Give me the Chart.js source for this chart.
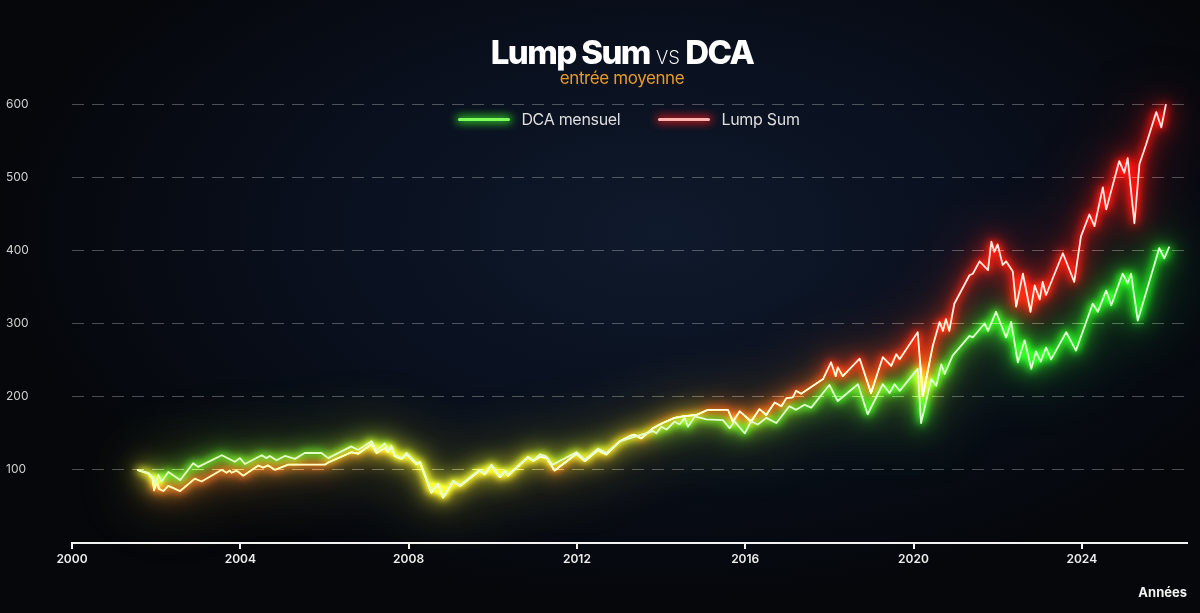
<!DOCTYPE html>
<html>
<head>
<meta charset="utf-8">
<script src="https://cdn.jsdelivr.net/npm/chart.js@4.4.1/dist/chart.umd.min.js"></script>
<style>
  html, body { margin: 0; padding: 0; width: 1200px; height: 613px; overflow: hidden; }
  body {
    background: radial-gradient(ellipse 55% 60% at 55% 38%, #0f1a2c 0%, #0a1120 45%, #05070b 100%);
    font-family: Inter, "Liberation Sans", sans-serif;
  }
  #wrap { position: relative; width: 1200px; height: 613px; }
  #chart { position: absolute; left: 0; top: 0; }
  .title { position: absolute; left: 0; width: 1244px; top: 32px; text-align: center; color: #fff;
    font-size: 33px; font-weight: 800; letter-spacing: -1.6px; line-height: 40px; }
  .title .vs { font-weight: 200; font-size: 24px; letter-spacing: -0.5px; }
  .sub { position: absolute; left: 0; width: 1244px; top: 68px; text-align: center; color: #e89a2c;
    font-size: 17px; letter-spacing: -0.4px; }
  #legend { position: absolute; top: 109px; left: 0; width: 1258px; display: flex; justify-content: center;
    gap: 38px; color: #dedede; font-size: 16px; letter-spacing: -0.3px; }
  .item { display: flex; align-items: center; gap: 11px; }
  .swatch { width: 52px; height: 3px; border-radius: 2px; }
</style>
</head>
<body>
<div id="wrap">
  <canvas id="chart" width="1200" height="613"></canvas>
  <div class="title">Lump Sum <span class="vs">vs</span> DCA</div>
  <div class="sub">entrée moyenne</div>
  <div id="legend"></div>
</div>
<script>
// DCA mensuel
const dcaYears = [
  2001.55, 2001.81, 2001.92, 2001.99, 2002.05, 2002.13, 2002.29, 2002.57, 2002.88, 2003.00,
  2003.56, 2003.87, 2003.99, 2004.11, 2004.51, 2004.62, 2004.70, 2004.86, 2005.06, 2005.30,
  2005.53, 2005.93, 2006.09, 2006.64, 2006.80, 2007.12, 2007.24, 2007.43, 2007.51, 2007.59,
  2007.67, 2007.83, 2007.95, 2008.19, 2008.27, 2008.54, 2008.70, 2008.82, 2009.06, 2009.22,
  2009.69, 2009.81, 2009.97, 2010.17, 2010.29, 2010.36, 2010.84, 2010.96, 2011.12, 2011.28,
  2011.42, 2011.99, 2012.19, 2012.50, 2012.70, 2013.02, 2013.25, 2013.81, 2013.89, 2014.01,
  2014.13, 2014.32, 2014.44, 2014.56, 2014.64, 2014.80, 2015.08, 2015.47, 2015.63, 2015.75,
  2015.99, 2016.14, 2016.30, 2016.50, 2016.74, 2017.05, 2017.21, 2017.41, 2017.57, 2018.00,
  2018.20, 2018.68, 2018.91, 2019.27, 2019.43, 2019.55, 2019.67, 2020.10, 2020.18, 2020.42,
  2020.54, 2020.66, 2020.74, 2020.93, 2021.33, 2021.41, 2021.69, 2021.77, 2021.96, 2022.20,
  2022.32, 2022.48, 2022.64, 2022.80, 2022.91, 2023.02, 2023.15, 2023.27, 2023.63, 2023.86,
  2024.26, 2024.38, 2024.58, 2024.70, 2024.97, 2025.09, 2025.17, 2025.33, 2025.84, 2025.96,
  2026.08
];
const dcaValues = [
  100, 96, 90, 81, 93, 84, 97, 86, 109, 104,
  120, 111, 116, 108, 120, 116, 119, 113, 119, 115,
  123, 123, 116, 132, 127, 139, 127, 136, 127, 133,
  120, 116, 123, 109, 111, 70, 81, 63, 85, 79,
  100, 95, 107, 91, 99, 93, 118, 113, 121, 118,
  107, 124, 114, 129, 123, 139, 143, 153, 150, 159,
  155, 166, 162, 171, 159, 173, 169, 168, 157, 166,
  150, 166, 162, 171, 164, 187, 182, 189, 185, 216,
  194, 217, 176, 217, 205, 217, 208, 238, 164, 224,
  215, 244, 231, 256, 283, 281, 300, 290, 316, 281,
  302, 247, 277, 238, 262, 248, 267, 251, 288, 263,
  327, 316, 345, 325, 368, 355, 368, 304, 403, 389,
  405
];

// Lump Sum
const lumpYears = [
  2001.55, 2001.81, 2001.92, 2001.95, 2002.01, 2002.07, 2002.17, 2002.29, 2002.57, 2002.92,
  2003.08, 2003.56, 2003.67, 2003.75, 2003.79, 2003.91, 2004.07, 2004.43, 2004.54, 2004.66,
  2004.82, 2005.14, 2006.01, 2006.09, 2006.64, 2006.80, 2007.12, 2007.24, 2007.43, 2007.51,
  2007.59, 2007.67, 2007.83, 2007.95, 2008.19, 2008.27, 2008.54, 2008.70, 2008.82, 2009.06,
  2009.22, 2009.69, 2009.81, 2009.97, 2010.17, 2010.29, 2010.36, 2010.84, 2010.96, 2011.12,
  2011.28, 2011.47, 2011.99, 2012.19, 2012.50, 2012.70, 2013.02, 2013.25, 2013.37, 2013.53,
  2013.81, 2014.04, 2014.32, 2014.52, 2014.84, 2015.11, 2015.59, 2015.71, 2015.87, 2016.14,
  2016.34, 2016.50, 2016.70, 2016.86, 2016.98, 2017.13, 2017.21, 2017.33, 2017.85, 2018.04,
  2018.15, 2018.20, 2018.32, 2018.72, 2018.99, 2019.27, 2019.47, 2019.59, 2019.67, 2020.10,
  2020.22, 2020.46, 2020.62, 2020.70, 2020.77, 2020.85, 2020.97, 2021.33, 2021.41, 2021.57,
  2021.77, 2021.85, 2021.92, 2022.00, 2022.12, 2022.20, 2022.36, 2022.44, 2022.60, 2022.78,
  2022.88, 2023.00, 2023.07, 2023.15, 2023.55, 2023.82, 2023.98, 2024.18, 2024.30, 2024.50,
  2024.58, 2024.89, 2025.01, 2025.09, 2025.25, 2025.37, 2025.53, 2025.77, 2025.89, 2026.00
];
const lumpValues = [
  100, 95, 88, 72, 84, 74, 71, 78, 71, 88,
  84, 100, 96, 99, 96, 99, 92, 106, 103, 106,
  100, 107, 107, 110, 124, 122, 135, 123, 130, 125,
  131, 119, 115, 121, 108, 110, 69, 80, 62, 84,
  78, 99, 94, 106, 90, 98, 92, 117, 112, 118,
  116, 99, 122, 112, 127, 121, 139, 146, 148, 143,
  157, 164, 171, 173, 175, 182, 182, 166, 180, 166,
  183, 175, 192, 187, 198, 199, 208, 204, 224, 247,
  228, 240, 228, 252, 205, 254, 242, 258, 251, 288,
  201, 270, 302, 290, 306, 290, 327, 366, 368, 385,
  373, 412, 398, 408, 380, 385, 371, 323, 368, 316,
  352, 333, 357, 339, 396, 357, 419, 449, 433, 486,
  456, 522, 506, 526, 437, 518, 545, 589, 568, 600
];

const xTicks = [2000, 2004, 2008, 2012, 2016, 2020, 2024];
const yTicks = [100, 200, 300, 400, 500, 600];

// couleurs du halo et du trait, de gauche a droite
const glowStops = [
  [[0, '#4cff2c'], [0.5, '#40ff28'], [1, '#22ff22']],
  [[0, '#ff5024'], [0.45, '#ff421a'], [0.7, '#ff2414'], [1, '#ff100c']]
];
const coreStops = [
  [[0, '#e4ffc4'], [1, '#e2ffd8']],
  [[0, '#ffc8a8'], [0.5, '#ffe4d4'], [1, '#ffe8e4']]
];

function hGradient(chart, stops) {
  const area = chart.chartArea;
  if (!area) return stops[0][1];
  const g = chart.ctx.createLinearGradient(area.left, 0, area.right, 0);
  stops.forEach(([o, c]) => g.addColorStop(o, c));
  return g;
}

const glow = {
  id: 'glow',
  beforeDatasetDraw(chart, args) {
    const ctx = chart.ctx;
    const pts = args.meta.data;
    const trace = () => {
      ctx.beginPath();
      pts.forEach((p, i) => i ? ctx.lineTo(p.x, p.y) : ctx.moveTo(p.x, p.y));
    };
    ctx.save();
    ctx.globalCompositeOperation = 'lighter';
    ctx.lineJoin = 'round';
    ctx.strokeStyle = hGradient(chart, glowStops[args.index]);
    const passes = [[30, 30, 0.18], [11, 12, 0.5], [4, 4, 0.95]];
    passes.forEach(([blur, width, alpha]) => {
      ctx.filter = 'blur(' + blur + 'px)';
      ctx.globalAlpha = alpha;
      ctx.lineWidth = width;
      trace();
      ctx.stroke();
    });
    ctx.restore();
  }
};

const ctx = document.getElementById('chart');
const chart = new Chart(ctx, {
  type: 'line',
  data: {
    datasets: [{
      label: 'DCA mensuel',
      data: dcaYears.map((x, i) => ({ x: x, y: dcaValues[i] })),
      borderColor: c => hGradient(c.chart, coreStops[0]),
      swatch: '#7dff5c',
      borderWidth: 1.8
    }, {
      label: 'Lump Sum',
      data: lumpYears.map((x, i) => ({ x: x, y: lumpValues[i] })),
      borderColor: c => hGradient(c.chart, coreStops[1]),
      swatch: '#ffb4b0',
      borderWidth: 1.8
    }]
  },
  options: {
    responsive: false,
    animation: false,
    layout: { padding: { left: 6, right: 13, top: 104, bottom: 8 } },
    elements: {
      point: { radius: 0 },
      line: { tension: 0, borderJoinStyle: 'round' }
    },
    plugins: {
      legend: { display: false },
      tooltip: { enabled: false }
    },
    scales: {
      x: {
        type: 'linear',
        min: 2000,
        max: 2026.5,
        afterBuildTicks: s => { s.ticks = xTicks.map(v => ({ value: v })) },
        ticks: {
          color: '#ececec',
          font: { family: 'Inter', size: 12, weight: '600' },
          padding: 3,
          maxRotation: 0,
          autoSkip: false,
          callback: v => String(v)
        },
        grid: { drawOnChartArea: false, drawTicks: true, tickLength: 6, color: '#f2f2f2', lineWidth: 2 },
        border: { display: true, color: '#f2f2f2', width: 2 },
        title: {
          display: true,
          text: 'Années',
          align: 'end',
          color: '#f2f2f2',
          font: { family: 'Inter', size: 13, weight: '700' },
          padding: { top: 16 }
        }
      },
      y: {
        min: 0,
        max: 600,
        afterBuildTicks: s => { s.ticks = yTicks.map(v => ({ value: v })) },
        afterFit: s => { s.width = 66 },
        ticks: { color: '#d0d0d0', font: { family: 'Inter', size: 12 }, crossAlign: 'far', padding: 0 },
        grid: { color: 'rgba(255,255,255,0.28)', lineWidth: 1, drawTicks: false },
        border: { display: false, dash: [12, 8] }
      }
    }
  },
  plugins: [glow]
});

// legende html
const legend = document.getElementById('legend');
chart.data.datasets.forEach(ds => {
  const item = document.createElement('div');
  item.className = 'item';
  const sw = document.createElement('span');
  sw.className = 'swatch';
  sw.style.background = ds.swatch;
  sw.style.boxShadow = '0 0 8px 2px ' + (ds.label === 'Lump Sum' ? 'rgba(255,30,30,0.8)' : 'rgba(60,255,40,0.8)');
  const txt = document.createElement('span');
  txt.textContent = ds.label;
  item.appendChild(sw);
  item.appendChild(txt);
  legend.appendChild(item);
});
</script>
</body>
</html>
